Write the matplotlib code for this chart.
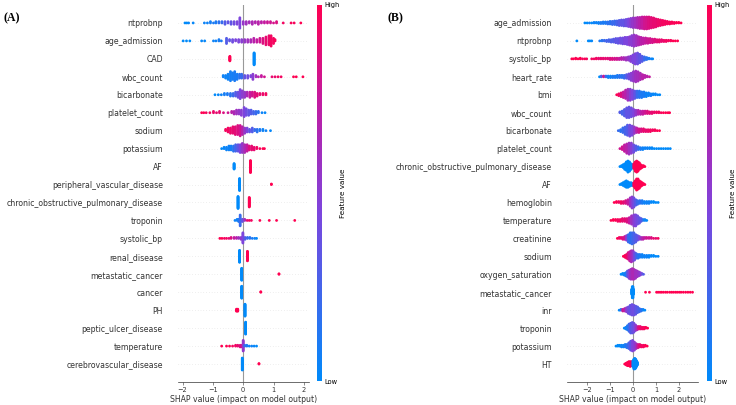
import matplotlib.pyplot as plt
import numpy as np
from matplotlib.colors import LinearSegmentedColormap
from matplotlib.cm import ScalarMappable

W, H, DPI = 736, 405, 100

# each feature: list of (shap value, number of points there, feature value 0..1)
features_a = ["ntprobnp", "age_admission", "CAD", "wbc_count", "bicarbonate",
              "platelet_count", "sodium", "potassium", "AF", "peripheral_vascular_disease",
              "chronic_obstructive_pulmonary_disease", "troponin", "systolic_bp",
              "renal_disease", "metastatic_cancer", "cancer", "PH", "peptic_ulcer_disease",
              "temperature", "cerebrovascular_disease"]

swarm_a = [
    [(-1.92, 1, 0.0), (-1.86, 1, 0.0), (-1.8, 1, 0.02), (-1.65, 1, 0.02), (-1.28, 1, 0.05), (-1.18, 1, 0.05),
     (-1.08, 2, 0.08), (-0.98, 1, 0.1), (-0.9, 2, 0.1), (-0.8, 2, 0.15), (-0.7, 2, 0.2), (-0.6, 3, 0.3),
     (-0.5, 2, 0.35), (-0.4, 3, 0.35), (-0.3, 3, 0.4), (-0.2, 3, 0.45), (-0.11, 9, 0.45), (0.0, 3, 0.55),
     (0.1, 3, 0.6), (0.2, 2, 0.62), (0.3, 3, 0.65), (0.4, 2, 0.68), (0.5, 3, 0.7), (0.6, 2, 0.72),
     (0.7, 2, 0.75), (0.8, 2, 0.78), (0.9, 2, 0.8), (1.0, 1, 0.82), (1.1, 2, 0.85), (1.32, 1, 0.95),
     (1.58, 1, 0.97), (1.68, 1, 0.97), (1.9, 1, 1.0)],
    [(-1.98, 1, 0.0), (-1.87, 1, 0.0), (-1.76, 1, 0.0), (-1.37, 1, 0.02), (-1.27, 1, 0.02), (-0.98, 1, 0.05),
     (-0.9, 1, 0.05), (-0.8, 2, 0.08), (-0.72, 1, 0.1), (-0.55, 5, 0.3), (-0.45, 2, 0.35), (-0.35, 3, 0.4),
     (-0.25, 2, 0.45), (-0.15, 3, 0.45), (-0.05, 3, 0.5), (0.05, 3, 0.55), (0.15, 3, 0.6), (0.25, 3, 0.65),
     (0.35, 4, 0.7), (0.45, 3, 0.75), (0.55, 4, 0.8), (0.65, 5, 0.85), (0.75, 7, 0.9), (0.85, 8, 0.92),
     (0.92, 9, 0.95), (1.0, 5, 0.95), (1.05, 2, 0.98)],
    [(-0.44, 10, 1.0), (0.36, 25, 0.0)],
    [(-0.66, 2, 0.05), (-0.58, 3, 0.05), (-0.5, 5, 0.05), (-0.42, 8, 0.08), (-0.35, 6, 0.08), (-0.28, 8, 0.1),
     (-0.2, 5, 0.1), (-0.12, 4, 0.15), (-0.05, 4, 0.2), (0.05, 3, 0.35), (0.15, 3, 0.4), (0.25, 2, 0.45),
     (0.32, 5, 0.5), (0.42, 2, 0.6), (0.5, 1, 0.7), (0.6, 2, 0.75), (0.7, 1, 0.8), (0.95, 1, 0.9),
     (1.05, 1, 0.92), (1.15, 1, 0.95), (1.25, 1, 0.95), (1.66, 1, 1.0), (1.75, 1, 1.0), (1.97, 1, 1.0)],
    [(-0.93, 1, 0.0), (-0.82, 1, 0.02), (-0.72, 1, 0.05), (-0.62, 2, 0.08), (-0.52, 2, 0.1), (-0.42, 3, 0.15),
     (-0.33, 3, 0.2), (-0.25, 4, 0.3), (-0.17, 5, 0.38), (-0.1, 8, 0.45), (-0.03, 6, 0.5), (0.05, 5, 0.55),
     (0.13, 4, 0.65), (0.22, 5, 0.75), (0.3, 4, 0.8), (0.38, 5, 0.85), (0.46, 3, 0.88), (0.55, 2, 0.9),
     (0.65, 2, 0.92), (0.75, 2, 0.95)],
    [(-1.37, 1, 1.0), (-1.3, 1, 1.0), (-1.22, 1, 0.95), (-1.1, 1, 0.95), (-0.98, 2, 0.92), (-0.88, 1, 0.9),
     (-0.78, 2, 0.9), (-0.65, 1, 0.85), (-0.5, 1, 0.8), (-0.38, 2, 0.7), (-0.3, 3, 0.65), (-0.22, 4, 0.6),
     (-0.14, 4, 0.55), (-0.06, 5, 0.5), (0.03, 8, 0.45), (0.1, 6, 0.4), (0.18, 5, 0.35), (0.26, 4, 0.3),
     (0.34, 3, 0.25), (0.42, 3, 0.2), (0.5, 2, 0.15), (0.62, 1, 0.05), (0.72, 1, 0.02)],
    [(-0.58, 2, 0.95), (-0.5, 4, 0.95), (-0.42, 5, 0.92), (-0.34, 6, 0.9), (-0.26, 7, 0.88), (-0.18, 8, 0.85),
     (-0.1, 9, 0.8), (-0.03, 7, 0.7), (0.05, 5, 0.55), (0.13, 4, 0.45), (0.21, 3, 0.35), (0.3, 4, 0.3),
     (0.38, 2, 0.2), (0.46, 3, 0.15), (0.55, 2, 0.1), (0.65, 2, 0.05), (0.75, 1, 0.05), (0.9, 1, 0.02)],
    [(-0.71, 1, 0.0), (-0.63, 2, 0.02), (-0.55, 3, 0.05), (-0.47, 4, 0.05), (-0.4, 4, 0.08), (-0.32, 5, 0.15),
     (-0.25, 6, 0.25), (-0.17, 6, 0.35), (-0.1, 7, 0.45), (-0.03, 8, 0.55), (0.05, 7, 0.65), (0.13, 6, 0.75),
     (0.2, 4, 0.85), (0.28, 4, 0.9), (0.36, 3, 0.9), (0.45, 2, 0.95), (0.55, 1, 0.95), (0.65, 1, 1.0),
     (0.7, 1, 1.0)],
    [(-0.3, 12, 0.0), (0.24, 25, 1.0)],
    [(-0.12, 25, 0.0), (0.93, 2, 1.0)],
    [(-0.17, 25, 0.0), (0.2, 20, 1.0)],
    [(-0.27, 1, 0.05), (-0.2, 2, 0.05), (-0.15, 3, 0.1), (-0.1, 11, 0.2), (-0.03, 3, 0.35), (0.05, 2, 0.6),
     (0.13, 1, 0.9), (0.2, 1, 0.95), (0.27, 1, 0.95), (0.55, 1, 1.0), (0.86, 1, 1.0), (1.1, 1, 1.0),
     (1.7, 1, 1.0)],
    [(-0.77, 1, 1.0), (-0.7, 1, 1.0), (-0.62, 1, 0.95), (-0.55, 1, 0.95), (-0.47, 1, 0.9), (-0.4, 2, 0.85),
     (-0.3, 2, 0.75), (-0.22, 2, 0.7), (-0.15, 2, 0.6), (-0.07, 3, 0.55), (-0.01, 12, 0.45), (0.06, 3, 0.3),
     (0.14, 2, 0.2), (0.22, 2, 0.15), (0.3, 1, 0.1), (0.38, 1, 0.05), (0.44, 1, 0.02)],
    [(-0.12, 25, 0.0), (0.14, 20, 1.0)],
    [(-0.05, 25, 0.0), (1.18, 2, 1.0)],
    [(-0.05, 25, 0.0), (0.58, 2, 1.0)],
    [(-0.22, 5, 1.0), (-0.18, 5, 1.0), (0.06, 25, 0.0)],
    [(0.08, 25, 0.0)],
    [(-0.71, 1, 1.0), (-0.55, 1, 1.0), (-0.45, 1, 1.0), (-0.35, 1, 0.95), (-0.25, 2, 0.95), (-0.18, 2, 0.9),
     (-0.1, 3, 0.85), (-0.04, 3, 0.8), (0.0, 14, 0.55), (0.05, 2, 0.2), (0.12, 2, 0.1), (0.2, 1, 0.05),
     (0.28, 1, 0.05), (0.36, 1, 0.02), (0.44, 1, 0.0)],
    [(-0.03, 25, 0.0), (0.52, 2, 1.0)],
]

features_b = ["age_admission", "ntprobnp", "systolic_bp", "heart_rate", "bmi", "wbc_count",
              "bicarbonate", "platelet_count", "chronic_obstructive_pulmonary_disease", "AF",
              "hemoglobin", "temperature", "creatinine", "sodium", "oxygen_saturation",
              "metastatic_cancer", "inr", "troponin", "potassium", "HT"]

swarm_b = [
    [(-2.1, 1, 0.0), (-2.0, 1, 0.0), (-1.9, 1, 0.05), (-1.8, 1, 0.0), (-1.7, 2, 0.05), (-1.6, 2, 0.05),
     (-1.5, 3, 0.05), (-1.4, 3, 0.1), (-1.3, 4, 0.1), (-1.2, 4, 0.1), (-1.1, 5, 0.15), (-1.0, 6, 0.15),
     (-0.9, 7, 0.2), (-0.8, 8, 0.2), (-0.7, 9, 0.25), (-0.6, 11, 0.3), (-0.5, 12, 0.35), (-0.4, 13, 0.35),
     (-0.3, 14, 0.4), (-0.2, 16, 0.45), (-0.1, 18, 0.5), (0.0, 20, 0.55), (0.1, 20, 0.6), (0.2, 22, 0.65),
     (0.3, 23, 0.7), (0.4, 24, 0.75), (0.5, 25, 0.8), (0.6, 25, 0.82), (0.7, 24, 0.85), (0.8, 22, 0.88),
     (0.9, 20, 0.9), (1.0, 17, 0.9), (1.1, 14, 0.92), (1.2, 12, 0.93), (1.3, 10, 0.95), (1.4, 8, 0.95),
     (1.5, 6, 0.96), (1.6, 5, 0.97), (1.7, 4, 0.98), (1.8, 3, 0.98), (1.9, 2, 1.0), (2.0, 2, 1.0),
     (2.1, 1, 1.0)],
    [(-2.45, 1, 0.0), (-1.95, 1, 0.0), (-1.88, 1, 0.0), (-1.8, 1, 0.02), (-1.45, 1, 0.1), (-1.35, 2, 0.15),
     (-1.25, 2, 0.2), (-1.15, 3, 0.25), (-1.05, 4, 0.25), (-0.95, 5, 0.3), (-0.85, 6, 0.3), (-0.75, 8, 0.35),
     (-0.65, 9, 0.35), (-0.55, 10, 0.4), (-0.45, 11, 0.4), (-0.35, 12, 0.45), (-0.25, 13, 0.45),
     (-0.15, 15, 0.5), (-0.05, 18, 0.5), (0.05, 20, 0.55), (0.15, 18, 0.6), (0.25, 15, 0.65), (0.35, 13, 0.7),
     (0.45, 11, 0.72), (0.55, 10, 0.75), (0.65, 9, 0.78), (0.75, 8, 0.8), (0.85, 7, 0.82), (0.95, 6, 0.85),
     (1.05, 5, 0.88), (1.15, 5, 0.9), (1.25, 4, 0.9), (1.35, 3, 0.92), (1.45, 3, 0.95), (1.55, 2, 0.95),
     (1.65, 2, 0.97), (1.75, 1, 1.0), (1.85, 1, 1.0), (1.95, 1, 1.0)],
    [(-2.67, 1, 1.0), (-2.6, 1, 1.0), (-2.5, 2, 1.0), (-2.4, 1, 1.0), (-2.3, 2, 1.0), (-2.2, 1, 0.95),
     (-2.1, 1, 1.0), (-2.02, 1, 0.95), (-1.8, 1, 0.95), (-1.7, 1, 0.95), (-1.6, 2, 0.95), (-1.5, 2, 0.9),
     (-1.4, 2, 0.9), (-1.3, 2, 0.9), (-1.2, 2, 0.9), (-1.1, 2, 0.88), (-1.0, 3, 0.85), (-0.9, 3, 0.85),
     (-0.8, 3, 0.82), (-0.7, 3, 0.8), (-0.6, 3, 0.75), (-0.5, 4, 0.7), (-0.4, 4, 0.65), (-0.3, 5, 0.6),
     (-0.2, 6, 0.55), (-0.1, 9, 0.5), (0.0, 13, 0.45), (0.1, 17, 0.45), (0.2, 18, 0.4), (0.3, 14, 0.35),
     (0.4, 9, 0.3), (0.5, 6, 0.2), (0.6, 4, 0.15), (0.7, 2, 0.1), (0.8, 1, 0.05), (0.86, 1, 0.02)],
    [(-1.46, 1, 0.0), (-1.38, 2, 0.3), (-1.28, 2, 0.8), (-1.18, 2, 0.2), (-1.08, 3, 0.05), (-0.98, 3, 0.05),
     (-0.88, 3, 0.1), (-0.78, 3, 0.1), (-0.68, 4, 0.1), (-0.58, 4, 0.15), (-0.48, 4, 0.15), (-0.38, 5, 0.2),
     (-0.28, 6, 0.3), (-0.18, 8, 0.4), (-0.08, 11, 0.5), (0.02, 14, 0.55), (0.12, 16, 0.6), (0.22, 14, 0.62),
     (0.32, 10, 0.65), (0.42, 7, 0.7), (0.52, 4, 0.7), (0.62, 2, 0.7), (0.72, 1, 0.75)],
    [(-0.71, 1, 1.0), (-0.62, 3, 0.95), (-0.52, 5, 0.85), (-0.42, 7, 0.75), (-0.32, 10, 0.7), (-0.22, 13, 0.6),
     (-0.12, 13, 0.5), (-0.02, 11, 0.45), (0.08, 9, 0.35), (0.18, 8, 0.2), (0.28, 8, 0.15), (0.38, 7, 0.1),
     (0.48, 6, 0.1), (0.58, 5, 0.05), (0.68, 4, 0.05), (0.78, 3, 0.05), (0.88, 2, 0.02), (0.98, 2, 0.02),
     (1.08, 1, 0.0), (1.17, 1, 0.0)],
    [(-0.57, 2, 0.3), (-0.47, 5, 0.25), (-0.37, 9, 0.3), (-0.27, 13, 0.35), (-0.17, 14, 0.35), (-0.07, 12, 0.4),
     (0.03, 9, 0.45), (0.13, 7, 0.55), (0.23, 6, 0.65), (0.33, 5, 0.7), (0.43, 5, 0.75), (0.53, 4, 0.8),
     (0.63, 4, 0.85), (0.73, 3, 0.88), (0.83, 3, 0.9), (0.93, 2, 0.92), (1.03, 2, 0.95), (1.13, 2, 0.95),
     (1.23, 1, 0.97), (1.33, 1, 1.0), (1.43, 1, 1.0), (1.53, 1, 1.0), (1.6, 1, 1.0)],
    [(-0.64, 1, 0.2), (-0.54, 3, 0.15), (-0.44, 6, 0.2), (-0.34, 9, 0.25), (-0.24, 12, 0.3), (-0.14, 13, 0.4),
     (-0.04, 11, 0.45), (0.06, 8, 0.55), (0.16, 6, 0.7), (0.26, 5, 0.8), (0.36, 4, 0.85), (0.46, 4, 0.9),
     (0.56, 3, 0.9), (0.66, 3, 0.92), (0.76, 3, 0.95), (0.86, 2, 0.95), (0.96, 2, 0.97), (1.06, 1, 1.0),
     (1.16, 1, 1.0)],
    [(-0.57, 1, 0.8), (-0.47, 4, 0.8), (-0.37, 8, 0.75), (-0.27, 11, 0.7), (-0.17, 13, 0.6), (-0.07, 12, 0.5),
     (0.03, 9, 0.4), (0.13, 6, 0.3), (0.23, 4, 0.2), (0.33, 3, 0.1), (0.43, 3, 0.05), (0.53, 2, 0.05),
     (0.63, 2, 0.05), (0.73, 2, 0.02), (0.83, 2, 0.02), (0.93, 1, 0.0), (1.03, 1, 0.0), (1.13, 1, 0.0),
     (1.23, 1, 0.0), (1.33, 1, 0.0), (1.43, 1, 0.0), (1.53, 1, 0.0), (1.63, 1, 0.0)],
    [(-0.57, 1, 0.0), (-0.5, 2, 0.0), (-0.43, 4, 0.0), (-0.36, 7, 0.0), (-0.29, 10, 0.0), (-0.22, 13, 0.0),
     (-0.15, 11, 0.0), (-0.08, 7, 0.0), (-0.02, 4, 0.0), (0.04, 6, 1.0), (0.1, 11, 1.0), (0.16, 13, 1.0),
     (0.22, 11, 1.0), (0.28, 8, 1.0), (0.34, 5, 1.0), (0.4, 3, 1.0), (0.46, 2, 1.0), (0.52, 1, 1.0)],
    [(-0.57, 1, 0.0), (-0.5, 2, 0.0), (-0.43, 4, 0.0), (-0.36, 6, 0.0), (-0.29, 8, 0.0), (-0.22, 7, 0.0),
     (-0.15, 5, 0.0), (-0.08, 4, 0.0), (-0.02, 3, 0.0), (0.04, 5, 1.0), (0.1, 9, 1.0), (0.16, 13, 1.0),
     (0.22, 12, 1.0), (0.28, 9, 1.0), (0.34, 6, 1.0), (0.4, 4, 1.0), (0.46, 2, 1.0), (0.52, 1, 1.0)],
    [(-0.82, 1, 1.0), (-0.72, 2, 1.0), (-0.62, 2, 0.95), (-0.52, 3, 0.95), (-0.42, 3, 0.9), (-0.32, 4, 0.85),
     (-0.22, 6, 0.75), (-0.12, 10, 0.6), (-0.04, 13, 0.5), (0.04, 11, 0.4), (0.12, 7, 0.3), (0.2, 5, 0.2),
     (0.3, 4, 0.15), (0.4, 4, 0.1), (0.5, 3, 0.05), (0.6, 3, 0.05), (0.7, 3, 0.05), (0.8, 2, 0.02),
     (0.9, 2, 0.0), (1.0, 1, 0.0), (1.1, 1, 0.0)],
    [(-0.96, 1, 1.0), (-0.86, 2, 1.0), (-0.76, 2, 1.0), (-0.66, 3, 0.95), (-0.56, 3, 0.95), (-0.46, 4, 0.9),
     (-0.36, 4, 0.9), (-0.26, 5, 0.85), (-0.16, 7, 0.75), (-0.06, 10, 0.6), (0.04, 13, 0.5), (0.12, 13, 0.45),
     (0.2, 10, 0.4), (0.28, 7, 0.35), (0.36, 4, 0.3), (0.44, 2, 0.15), (0.52, 2, 0.05), (0.6, 1, 0.0)],
    [(-0.68, 1, 1.0), (-0.6, 2, 0.95), (-0.52, 2, 0.9), (-0.44, 3, 0.85), (-0.36, 4, 0.8), (-0.28, 6, 0.5),
     (-0.2, 9, 0.2), (-0.12, 12, 0.15), (-0.04, 13, 0.2), (0.04, 12, 0.25), (0.12, 9, 0.3), (0.2, 6, 0.35),
     (0.28, 4, 0.45), (0.36, 3, 0.6), (0.44, 3, 0.7), (0.52, 2, 0.75), (0.6, 2, 0.8), (0.7, 2, 0.8),
     (0.8, 2, 0.85), (0.9, 1, 0.9), (1.0, 1, 0.9), (1.1, 1, 0.95)],
    [(-0.42, 1, 1.0), (-0.35, 3, 1.0), (-0.28, 5, 0.95), (-0.21, 8, 0.85), (-0.14, 11, 0.75), (-0.07, 13, 0.65),
     (0.0, 12, 0.55), (0.07, 9, 0.4), (0.14, 6, 0.25), (0.22, 5, 0.15), (0.3, 4, 0.1), (0.4, 4, 0.05),
     (0.5, 3, 0.05), (0.6, 3, 0.05), (0.7, 3, 0.02), (0.8, 2, 0.02), (0.9, 2, 0.0), (1.0, 1, 0.0),
     (1.1, 1, 0.0)],
    [(-0.52, 1, 0.0), (-0.45, 2, 0.0), (-0.38, 3, 0.05), (-0.31, 5, 0.1), (-0.24, 8, 0.3), (-0.17, 11, 0.5),
     (-0.1, 13, 0.6), (-0.03, 14, 0.65), (0.04, 13, 0.65), (0.11, 11, 0.6), (0.18, 8, 0.6), (0.25, 6, 0.55),
     (0.32, 4, 0.5), (0.39, 2, 0.4), (0.46, 1, 0.3)],
    [(-0.06, 6, 0.0), (-0.03, 13, 0.0), (0.0, 13, 0.0), (0.03, 6, 0.0), (0.55, 1, 1.0), (0.72, 1, 1.0),
     (1.03, 1, 1.0), (1.1, 1, 1.0), (1.18, 1, 1.0), (1.25, 1, 1.0), (1.33, 1, 1.0), (1.42, 1, 1.0),
     (1.5, 1, 1.0), (1.6, 1, 1.0), (1.68, 1, 1.0), (1.76, 1, 1.0), (1.85, 1, 1.0), (1.93, 1, 1.0),
     (2.02, 1, 1.0), (2.1, 1, 1.0), (2.2, 1, 1.0), (2.3, 1, 1.0), (2.4, 1, 1.0), (2.5, 1, 1.0),
     (2.6, 1, 1.0)],
    [(-0.6, 1, 0.0), (-0.52, 2, 0.2), (-0.44, 3, 0.8), (-0.36, 4, 0.7), (-0.28, 6, 0.5), (-0.2, 9, 0.4),
     (-0.12, 12, 0.35), (-0.04, 14, 0.4), (0.04, 13, 0.4), (0.12, 11, 0.35), (0.2, 8, 0.3), (0.28, 5, 0.25),
     (0.36, 3, 0.15), (0.44, 2, 0.05), (0.52, 1, 0.0)],
    [(-0.38, 1, 0.0), (-0.31, 3, 0.05), (-0.24, 6, 0.1), (-0.17, 10, 0.2), (-0.1, 13, 0.3), (-0.03, 14, 0.35),
     (0.04, 12, 0.4), (0.11, 8, 0.5), (0.18, 5, 0.65), (0.25, 4, 0.85), (0.32, 4, 0.9), (0.4, 3, 0.95),
     (0.48, 3, 0.95), (0.56, 2, 1.0), (0.64, 1, 1.0)],
    [(-0.74, 1, 0.0), (-0.66, 2, 0.0), (-0.58, 2, 0.0), (-0.5, 3, 0.05), (-0.42, 3, 0.05), (-0.34, 4, 0.1),
     (-0.26, 5, 0.15), (-0.18, 8, 0.25), (-0.1, 12, 0.35), (-0.02, 14, 0.45), (0.06, 11, 0.5), (0.14, 7, 0.6),
     (0.22, 5, 0.8), (0.3, 4, 0.9), (0.38, 3, 0.95), (0.46, 3, 0.95), (0.54, 2, 1.0), (0.62, 1, 1.0)],
    [(-0.36, 1, 1.0), (-0.3, 3, 1.0), (-0.24, 5, 1.0), (-0.18, 6, 1.0), (-0.12, 7, 1.0), (-0.06, 6, 1.0),
     (0.0, 8, 0.0), (0.04, 13, 0.0), (0.08, 14, 0.0), (0.12, 12, 0.0), (0.16, 8, 0.0), (0.2, 4, 0.0)],
]

xticks = [-2, -1, 0, 1, 2]

red_blue = LinearSegmentedColormap.from_list(
    "red_blue", [(0.0, "#008afa"), (0.45, "#7d45dd"), (0.75, "#c31aa0"), (1.0, "#ff0051")])

fig = plt.figure(figsize=(W / DPI, H / DPI), dpi=DPI)


def px_axes(x0, y0, x1, y1):
    return fig.add_axes([x0 / W, 1 - y1 / H, (x1 - x0) / W, (y1 - y0) / H])


def beeswarm(ax, feats, swarm, xlim, row_height=0.4):
    n = len(feats)
    ax.axvline(0, color="#999999", lw=0.8, zorder=-1)
    for i, pts in enumerate(swarm):
        pos = n - 1 - i
        xs = np.concatenate([np.full(k, x) for x, k, c in pts])
        cs = np.concatenate([np.full(k, c) for x, k, c in pts])
        rank = np.concatenate([np.arange(k) for x, k, c in pts])
        lo, hi = xs.min(), xs.max()
        quant = np.round(100 * (xs - lo) / (hi - lo + 1e-8))
        order = np.lexsort((rank, quant))
        ys = np.zeros(len(xs))
        layer, last = 0, None
        for j in order:
            if quant[j] != last:
                layer = 0
            ys[j] = np.ceil(layer / 2) * ((layer % 2) * 2 - 1)
            layer += 1
            last = quant[j]
        ys *= 0.9 * (row_height / np.max(ys + 1))
        ax.axhline(pos, color="#cccccc", lw=0.4, dashes=(1, 4), zorder=-1)
        ax.scatter(xs, pos + ys, c=cs, cmap=red_blue, vmin=0, vmax=1, s=4,
                   linewidth=0, zorder=3, rasterized=True)
    ax.set_xlim(*xlim)
    ax.set_ylim(-1, n)
    ax.set_yticks(range(n))
    ax.set_yticklabels(feats[::-1], fontsize=5.6, color="#333333")
    ax.tick_params("y", length=0, pad=10.8)
    ax.set_xticks(xticks)
    ax.tick_params("x", labelsize=4.8, length=2, width=0.4, color="#333333",
                   labelcolor="#333333", pad=1.5)
    for side in ["top", "right", "left"]:
        ax.spines[side].set_visible(False)
    ax.spines["bottom"].set_linewidth(0.5)
    ax.spines["bottom"].set_color("#333333")
    ax.set_xlabel("SHAP value (impact on model output)", fontsize=5.6, color="#333333", labelpad=1.5)


def colorbar(cax):
    sm = ScalarMappable(cmap=red_blue)
    sm.set_array([0, 1])
    cb = fig.colorbar(sm, cax=cax, ticks=[0, 1])
    cb.set_ticklabels(["Low", "High"])
    cb.set_label("Feature value", size=5.2, labelpad=0)
    cb.ax.tick_params(labelsize=4.8, length=0, pad=2)
    cb.outline.set_visible(False)


ax_a = px_axes(178, 5, 309, 382)
beeswarm(ax_a, features_a, swarm_a, (-2.15, 2.17))
colorbar(px_axes(317, 5, 321.5, 381))

ax_b = px_axes(567, 5, 698, 382)
beeswarm(ax_b, features_b, swarm_b, (-2.88, 2.84))
colorbar(px_axes(707, 5, 711.5, 381))

fig.text(3 / W, 1 - 18 / H, "(A)", fontsize=8.5, fontweight="bold", family="Liberation Serif", va="center")
fig.text(388 / W, 1 - 18 / H, "(B)", fontsize=8.5, fontweight="bold", family="Liberation Serif", va="center")

fig.savefig("out.png", dpi=DPI)
